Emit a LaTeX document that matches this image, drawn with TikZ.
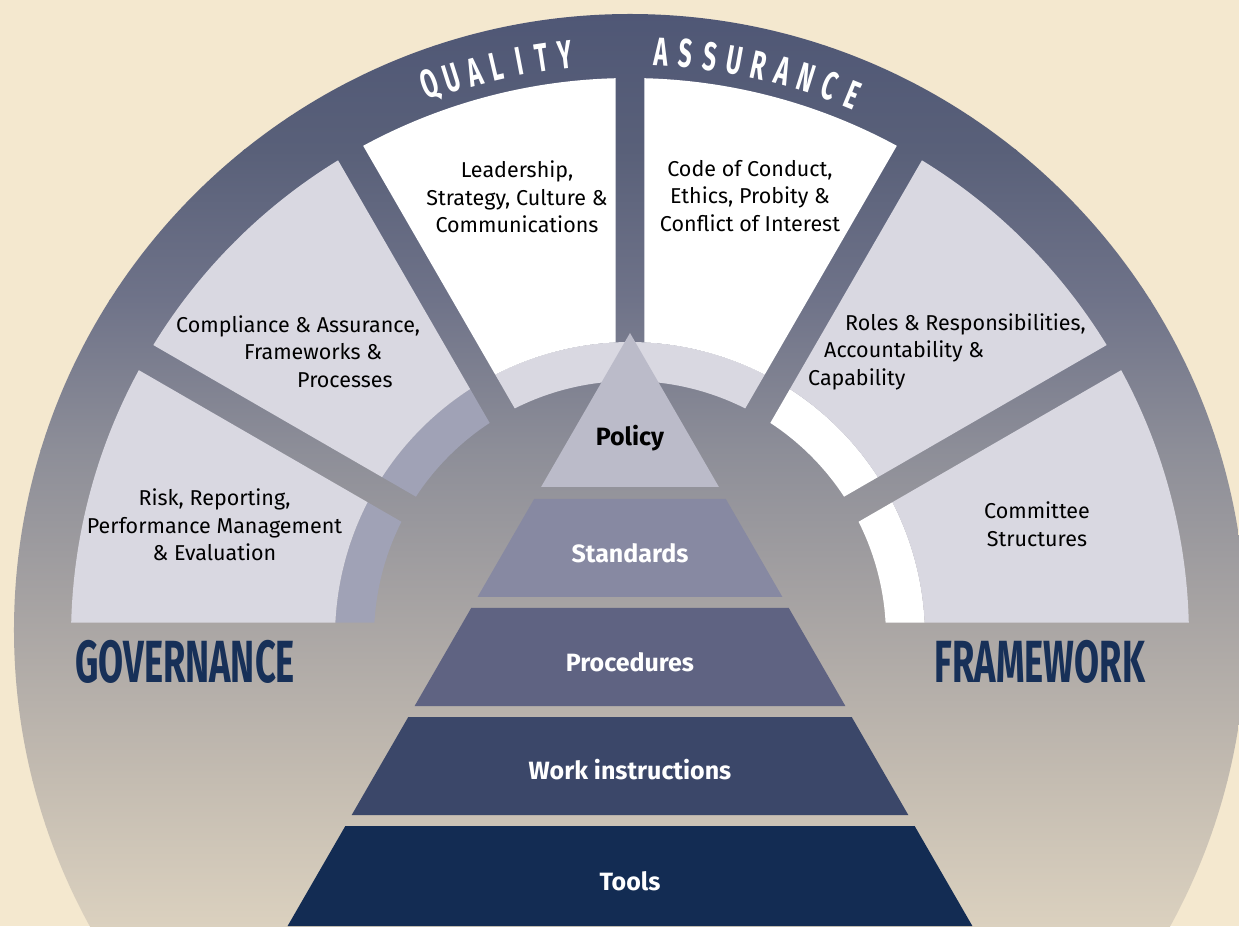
\documentclass[tikz,border=0pt]{standalone}
\usepackage{fontspec}
\setmainfont{Fira Sans}

\definecolor{nen}{HTML}{F4E8CF}
\definecolor{vong1}{HTML}{4E5675}
\definecolor{vong2}{HTML}{596079}
\definecolor{vong3}{HTML}{6F7389}
\definecolor{vong4}{HTML}{8D8E98}
\definecolor{vong5}{HTML}{A9A5A4}
\definecolor{vong6}{HTML}{C4BCB1}
\definecolor{vong7}{HTML}{DBD1BF}
\definecolor{nhat}{HTML}{D9D8E1}
\definecolor{xanhxam}{HTML}{A0A2B6}
\definecolor{tang1}{HTML}{BBBBC9}
\definecolor{tang2}{HTML}{8789A2}
\definecolor{tang3}{HTML}{5F6382}
\definecolor{tang4}{HTML}{3B4769}
\definecolor{tang5}{HTML}{132C53}
\definecolor{xanhdam}{HTML}{173058}

\begin{document}
\begin{tikzpicture}[
        x=1pt, y=1pt,
        hop/.style={font=\fontsize{21.5}{27.5}\selectfont, text=black, inner sep=0pt},
        tang/.style={font=\fontsize{25}{25}\selectfont\bfseries, inner sep=0pt},
        chucong/.style={font=\fontsize{40}{40}\selectfont\bfseries, text=white, inner sep=0pt},
        tieude/.style={font=\fontsize{59.5}{60}\selectfont\bfseries, text=xanhdam, inner sep=0pt}
    ]
        \useasboundingbox (-630,-289) rectangle (609,637);

        % Vẽ nền
        \fill[nen] (-630,-289) rectangle (609,637);
        \begin{scope}
            \clip (0,7) circle[radius=616];
            \foreach \ya/\yb/\ca/\cb in {640/487/vong1/vong2, 487/337/vong2/vong3, 337/187/vong3/vong4,
                                         187/17/vong4/vong5, 17/-143/vong5/vong6, -143/-289/vong6/vong7}
                \shade[top color=\ca, bottom color=\cb] (-630,{\yb-0.5}) rectangle (609,\ya);
        \end{scope}

        % Vẽ các dải bên trong
        \foreach \a/\b/\mau in {0/30/white, 30/60/white, 60/120/nhat, 120/150/xanhxam, 150/180/xanhxam}{
            \pgfmathsetmacro\pa{\a+asin(14.5/295)}
            \pgfmathsetmacro\pb{\b-asin(14.5/295)}
            \pgfmathsetmacro\qa{\a+asin(14.5/256)}
            \pgfmathsetmacro\qb{\b-asin(14.5/256)}
            \fill[\mau] (\pa:295) arc[start angle=\pa, end angle=\pb, radius=295]
                -- (\qb:256) arc[start angle=\qb, end angle=\qa, radius=256] -- cycle;
        }

        % Vẽ các ô
        \foreach \a/\b/\mau in {0/30/nhat, 30/60/nhat, 60/90/white, 90/120/white, 120/150/nhat, 150/180/nhat}{
            \pgfmathsetmacro\pa{\a+asin(14.5/559)}
            \pgfmathsetmacro\pb{\b-asin(14.5/559)}
            \pgfmathsetmacro\qa{\a+asin(14.5/295)}
            \pgfmathsetmacro\qb{\b-asin(14.5/295)}
            \fill[\mau] (\pa:559) arc[start angle=\pa, end angle=\pb, radius=559]
                -- (\qb:295) arc[start angle=\qb, end angle=\qa, radius=295] -- cycle;
        }

        % Chữ trên vòng
        \foreach \ch [count=\i] in {Q,U,A,L,I,T,Y}{
            \pgfmathsetmacro\a{112.15-2.25*\i}
            \node[chucong, rotate=\a-90] (qa\i) at (\a:586) {\scalebox{0.6}[1]{\ch}};
        }
        \foreach \ch [count=\i] in {A,S,S,U,R,A,N,C,E}{
            \pgfmathsetmacro\a{89.3-2.4*\i}
            \node[chucong, rotate=\a-90] (as\i) at (\a:586) {\scalebox{0.6}[1]{\ch}};
        }

        % Chữ trong các ô
        \node[hop, align=center] (lanhdao) at (-113,440) {Leadership,\\Strategy, Culture \&\\Communications};
        \node[hop, align=center] (quytac) at (120,441) {Code of Conduct,\\Ethics, Probity \&\\Conflict of Interest};
        \node[hop, align=left, anchor=west] (tuanthu) at (-454,285.5)
            {Compliance \& Assurance,\\\hspace*{68pt}Frameworks \&\\\hspace*{121pt}Processes};
        \node[hop, align=left, anchor=west] (vaitro) at (178,285.5)
            {\hspace*{37pt}Roles \& Responsibilities,\\\hspace*{16pt}Accountability \&\\Capability};
        \node[hop, align=center] (ruiro) at (-415.5,112) {Risk, Reporting,\\Performance Management\\\& Evaluation};
        \node[hop, align=center] (uyban) at (407,113) {Committee\\Structures};

        % Kim tự tháp
        \foreach \tren/\duoi/\mau/\chu/\mauchu/\ten/\ychu in {304/150/tang1/Policy/black/policy/199,
                138/40/tang2/Standards/white/standards/84, 29/-69/tang3/Procedures/white/procedures/-25,
                -80/-178/tang4/Work instructions/white/work/-133, -189/-289/tang5/Tools/white/tools/-244}{
            \fill[\mau] ({-(304-\tren)*0.5774},\tren) -- ({(304-\tren)*0.5774},\tren)
                -- ({(304-\duoi)*0.5774},\duoi) -- ({-(304-\duoi)*0.5774},\duoi) -- cycle;
            \node[tang, text=\mauchu] (\ten) at (0,\ychu) {\chu};
        }

        % Tiêu đề hai bên
        \node[tieude] (governance) at (-445,-25) {\scalebox{0.61}[1]{GOVERNANCE}};
        \node[tieude] (framework) at (410,-25) {\scalebox{0.61}[1]{FRAMEWORK}};
    \end{tikzpicture}
\end{document}
